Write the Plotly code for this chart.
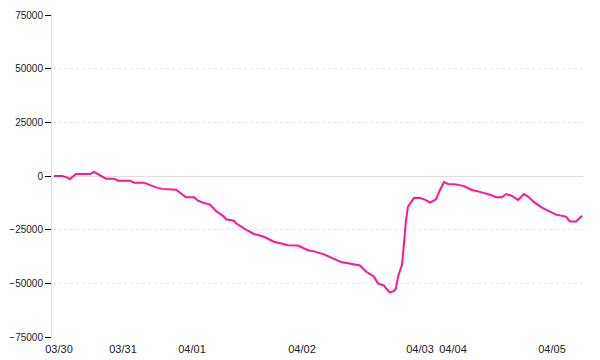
import plotly.graph_objects as go

# sample index along the time axis and the series value at each sample
sample_idx = [0, 4, 6, 8, 11, 18, 20, 22, 25, 26, 30, 32, 38, 40, 45, 48, 51, 54, 61, 64,
              66, 70, 72, 75, 78, 81, 85, 86, 90, 91, 94, 96, 100, 105, 110, 115, 117, 122,
              127, 130, 135, 140, 144, 147, 151, 153, 156, 160, 162, 165, 166, 168, 170, 171,
              172, 174, 175, 176, 177, 179, 180, 183, 186, 188, 191, 193, 195, 197, 201, 205,
              209, 213, 218, 221, 224, 226, 229, 232, 235, 237, 240, 244, 247, 251, 256, 258,
              261, 264]
values = [0, 0, -500, -1400, 900, 900, 1900, 900, -800, -1250, -1250, -2200, -2200, -3100,
          -3100, -4200, -5300, -6000, -6400, -8500, -9900, -9900, -11500, -12600, -13300,
          -16300, -18900, -20200, -20800, -22000, -23900, -25000, -27000, -28300, -30600,
          -31800, -32300, -32400, -34600, -35100, -36500, -38600, -40200, -40600, -41300,
          -41700, -44500, -46900, -50000, -51000, -52300, -54300, -53500, -52300, -46900,
          -41400, -31300, -20500, -14300, -11900, -10200, -10200, -11200, -12400, -10900,
          -6500, -2800, -3700, -3900, -4700, -6500, -7400, -8700, -9900, -9900, -8400, -9300,
          -11200, -8400, -9600, -12200, -14700, -16100, -18000, -18900, -21200, -21200, -18500]

tick_idx = [2.5, 34.5, 69, 124, 183, 199.5, 249]
tick_labels = ["03/30", "03/31", "04/01", "04/02", "04/03", "04/04", "04/05"]
y_ticks = [-75000, -50000, -25000, 0, 25000, 50000, 75000]

fig = go.Figure()
fig.add_trace(go.Scatter(
    x=sample_idx, y=values, mode="lines",
    line=dict(color="#ff1493", width=2),
    hoverinfo="skip", showlegend=False,
))

font = dict(family="Liberation Sans, Arial, sans-serif", size=10, color="#222222")
xfont = dict(family="Liberation Sans, Arial, sans-serif", size=11, color="#222222")
fig.update_layout(
    width=600, height=360,
    margin=dict(l=52, r=17, t=15, b=23, pad=0),
    paper_bgcolor="white", plot_bgcolor="white",
    font=font,
    xaxis=dict(
        range=[-1, 264.5], tickmode="array", tickvals=tick_idx, ticktext=tick_labels,
        showgrid=False, zeroline=False, showline=False, ticks="",
        tickfont=xfont, tickangle=0, automargin=False, ticklabelstandoff=4,
    ),
    yaxis=dict(
        range=[-75000, 75000], tickmode="array", tickvals=y_ticks,
        tickformat="d",
        showgrid=True, gridcolor="#e8e8e8", griddash="dot", gridwidth=1,
        zeroline=True, zerolinecolor="#dddddd", zerolinewidth=1,
        showline=True, linecolor="#dddddd", linewidth=1,
        ticks="outside", ticklen=6, tickcolor="#000000", tickwidth=1,
        tickfont=font, automargin=False,
    ),
)

fig.write_html("out.html")
